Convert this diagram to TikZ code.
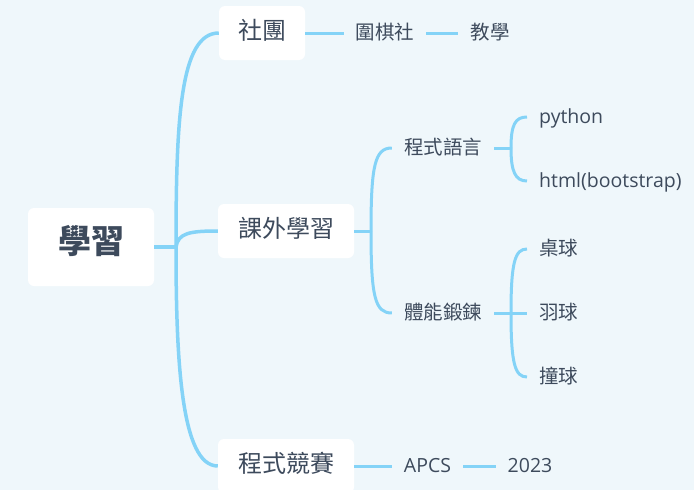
\documentclass[tikz,border=0pt]{standalone}
\usepackage{fontspec}
\setmainfont{Open Sans}
\newfontfamily\cjk{Noto Sans CJK TC}
\definecolor{bg}{HTML}{EFF7FB}
\definecolor{ln}{HTML}{84D3F7}
\definecolor{tx}{HTML}{3D4A5C}
\begin{document}
\begin{tikzpicture}[x=1pt,y=-1pt,
  box/.style={fill=white, rounded corners=6pt, text=tx, inner sep=0pt, minimum height=54pt},
  rootbox/.style={box, minimum width=126pt, minimum height=78pt, font=\cjk\bfseries\fontsize{33}{37}\selectfont, text height=1.36em, text depth=0em},
  topicbox/.style={box, font=\cjk\fontsize{24}{28}\selectfont, text height=1.3em, text depth=0em},
  cjklabel/.style={text=tx, inner xsep=12pt, inner ysep=0pt, font=\cjk\fontsize{19.5}{23}\selectfont, text height=1.28em, text depth=0em},
  latlabel/.style={text=tx, inner xsep=12pt, inner ysep=0pt, font=\fontsize{19.5}{23}\selectfont, text height=1.24em, text depth=0em},
  trunk/.style={draw=ln, line width=3.5pt},
  branch/.style={draw=ln, line width=3pt},
]
\useasboundingbox (0,0) rectangle (694,490);
\fill[bg] (0,0) rectangle (694,490);

% nodes
\node[rootbox] (root) at (91,247) {學習};
\node[topicbox, minimum width=86pt] (club) at (262,33) {社團};
\node[topicbox, minimum width=136pt] (extra) at (286,231) {課外學習};
\node[topicbox, minimum width=136pt] (contest) at (286,466) {程式競賽};

\node[cjklabel] (weiqi) at (385,33) {圍棋社};
\node[cjklabel] (teach) at (490,33) {教學};
\node[cjklabel] (lang) at (443,148) {程式語言};
\node[cjklabel] (fitness) at (443,313) {體能鍛鍊};
\node[latlabel, anchor=west] (py) at (527,117) {python};
\node[latlabel, anchor=west] (html) at (527,181) {html(bootstrap)};
\node[cjklabel, anchor=west] (zhuo) at (527,249) {桌球};
\node[cjklabel, anchor=west] (yu) at (527,313) {羽球};
\node[cjklabel, anchor=west] (zhuang) at (527,377) {撞球};
\node[latlabel] (apcs) at (427.5,466) {APCS};
\node[latlabel] (year) at (530,466) {2023};

\coordinate (hub) at (176,247);
\coordinate (b2) at (371,231);
\coordinate (b3) at (511,148);
\coordinate (b4) at (511,313);

% connectors
\draw[ln, line width=4pt] (root.east) -- (hub);
\draw[trunk] (hub) .. controls (176,120) and (180,33) .. (club.west);
\draw[trunk] (hub) .. controls (178,233) and (190,231) .. (extra.west);
\draw[trunk] (hub) .. controls (176,360) and (181,466) .. (contest.west);

\draw[branch] (club.east) -- (weiqi.west);
\draw[branch] (weiqi.east) -- (teach.west);

\draw[branch] (extra.east) -- (b2);
\draw[branch] (b2) .. controls (371,165) and (375,148) .. (lang.west);
\draw[branch] (b2) .. controls (371,297) and (375,313) .. (fitness.west);

\draw[branch] (lang.east) -- (b3);
\draw[branch] (b3) .. controls (511,125) and (515,117) .. (py.west);
\draw[branch] (b3) .. controls (511,171) and (515,181) .. (html.west);

\draw[branch] (fitness.east) -- (yu.west);
\draw[branch] (b4) .. controls (511,262) and (515,249) .. (zhuo.west);
\draw[branch] (b4) .. controls (511,364) and (515,377) .. (zhuang.west);

\draw[branch] (contest.east) -- (apcs.west);
\draw[branch] (apcs.east) -- (year.west);
\end{tikzpicture}
\end{document}
